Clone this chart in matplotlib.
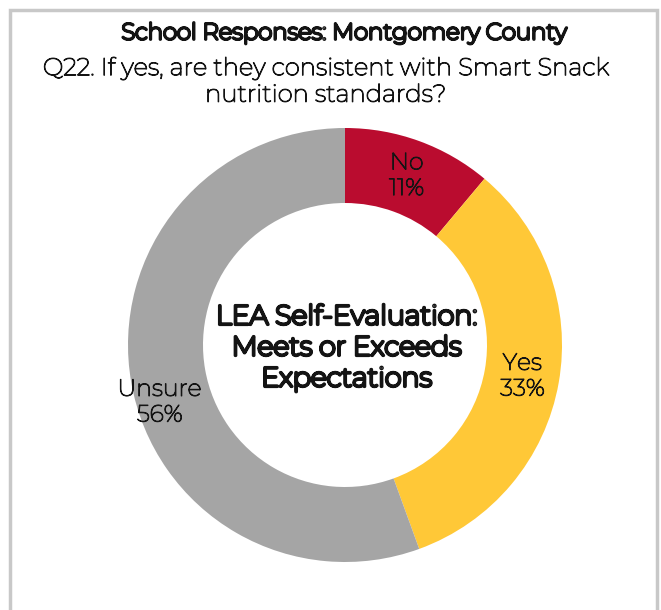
import matplotlib
matplotlib.use("Agg")
import matplotlib.pyplot as plt
from matplotlib.patches import Rectangle
import matplotlib.patheffects as pe

categories = ["No", "Yes", "Unsure"]
values = [1, 3, 5]
colors = ["#BA0C2F", "#FFC837", "#A5A5A5"]
title = "School Responses: Montgomery County"
subtitle = "Q22. If yes, are they consistent with Smart Snack\nnutrition standards?"
center_text = "LEA Self-Evaluation:\nMeets or Exceeds\nExpectations"

W, H = 661, 610
fig = plt.figure(figsize=(W / 100, H / 100), dpi=100)
ax = fig.add_axes([0, 0, 1, 1])

fam = ["Montserrat", "Lato", "Open Sans", "DejaVu Sans"]
TXT = "#141414"
reg = [pe.withStroke(linewidth=0.8, foreground=TXT)]
bold_t = [pe.withStroke(linewidth=2.0, foreground=TXT)]
bold_c = [pe.withStroke(linewidth=2.3, foreground=TXT)]

it = iter(categories)
wedges, texts, autotexts = ax.pie(
    values, colors=colors, startangle=90, counterclock=False,
    center=(345, H - 345), radius=217, frame=True,
    wedgeprops=dict(width=217 - 142, linewidth=0),
    autopct=lambda p: f"{next(it)}\n{p:.0f}%", pctdistance=0.83,
    textprops=dict(fontsize=17, color=TXT, family=fam, linespacing=1.15,
                   path_effects=reg),
)
ax.set_xlim(0, W)
ax.set_ylim(0, H)
ax.set_aspect("equal")
ax.axis("off")

# frame
ax.add_patch(Rectangle((9.5, -20), 647, H - 9.5 + 20, fill=False,
                       edgecolor="#C8C8C8", linewidth=2.5))

# nudge Unsure label to match the reference placement
x, y = autotexts[2].get_position()
autotexts[2].set_position((x - 8, y - 26))

ax.text(344, H - 33, title, ha="center", va="center", fontsize=16.5,
        family=fam, color=TXT, path_effects=bold_t)
ax.text(325, H - 82, subtitle, ha="center", va="center", fontsize=17.5,
        family=fam, color=TXT, linespacing=1.2, path_effects=reg)
ax.text(347, H - 348, center_text, ha="center", va="center", fontsize=19.5,
        family=fam, color=TXT, linespacing=1.3, path_effects=bold_c)

fig.savefig("out.png", dpi=100, facecolor="white")
